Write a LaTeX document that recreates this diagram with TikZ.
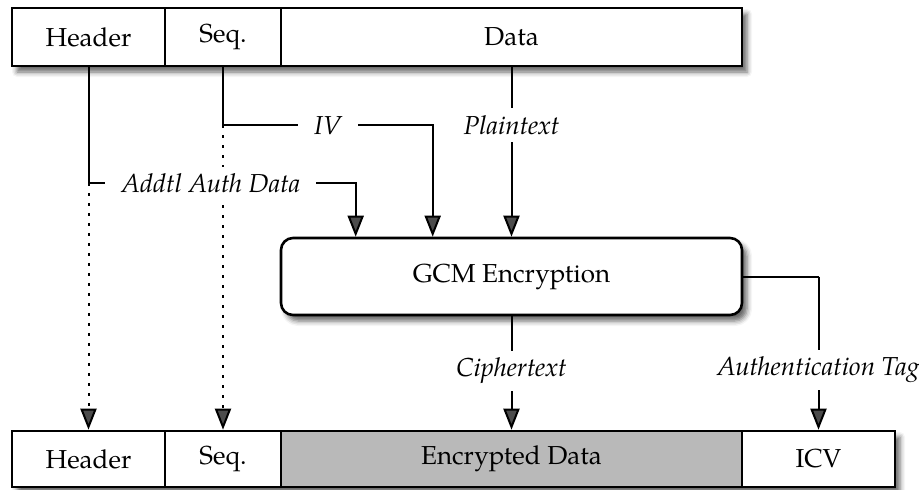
\documentclass[tikz,border=0pt]{standalone}
\usepackage{fontspec}
\setmainfont{TeX Gyre Pagella}
\usetikzlibrary{arrows.meta,shadows.blur}
\definecolor{encgray}{RGB}{185,185,185}
\begin{document}
\begin{tikzpicture}[x=0.5pt,y=-0.5pt,
  txt/.style={font=\fontsize{13}{15}\selectfont},
  field/.style={txt,draw,line width=1.3pt,minimum height=29pt,inner sep=0pt},
  lbl/.style={fill=white,inner xsep=8pt,inner ysep=3.5pt,font=\fontsize{13}{15}\selectfont\itshape},
  conn/.style={line width=1pt},
  arr/.style={conn,-{Triangle[length=10.5pt,width=8pt]}},
  dots/.style={arr,dash pattern=on 1.2pt off 3.8pt},
  shad/.style={blur shadow={shadow xshift=2.5pt,shadow yshift=-3pt,shadow blur radius=2.5pt,shadow opacity=60}}]
\useasboundingbox (0,0) rectangle (919,489);
% top bar
\fill[white,shad] (12,8) rectangle (742,66);
\node[field,minimum width=76.5pt] (th) at (88.5,37) {Header};
\node[field,minimum width=58pt] (ts) at (223,37) {Seq.};
\node[field,minimum width=230.5pt] (td) at (511.5,37) {Data};
% GCM
\node[txt,draw,line width=1.3pt,rounded corners=6pt,minimum width=230.5pt,minimum height=38.5pt,fill=white,shad] (gcm) at (511.5,276.5) {GCM Encryption};
% bottom bar
\fill[white,shad] (12,431) rectangle (895,487);
\node[field,minimum width=76.5pt,minimum height=28pt] (bh) at (88.5,459) {Header};
\node[field,minimum width=58pt,minimum height=28pt] (bs) at (223,459) {Seq.};
\node[field,minimum width=230.5pt,minimum height=28pt,fill=encgray] (be) at (511.5,459) {Encrypted Data};
\node[field,minimum width=76.5pt,minimum height=28pt] (bi) at (818.5,459) {ICV};
% helper coordinates
\coordinate (aadc) at ([yshift=-58pt]th.south);
\coordinate (ivc) at ([yshift=-29pt]ts.south);
\coordinate (aadin) at ([xshift=38pt]gcm.north west);
\coordinate (ivin) at ([xshift=76.5pt]gcm.north west);
\coordinate (tagc) at (gcm.east -| bi.north);
% dotted
\draw[dots] (aadc) -- (bh.north);
\draw[dots] (ivc) -- (bs.north);
% connectors
\draw[conn] (th.south) -- (aadc);
\draw[arr] (aadc) -- node[lbl,pos=0.458]{Addtl Auth Data} (aadin |- aadc) -- (aadin);
\draw[conn] (ts.south) -- (ivc);
\draw[arr] (ivc) -- node[lbl,pos=0.5]{IV} (ivin |- ivc) -- (ivin);
\draw[arr] (td.south) -- node[lbl,pos=0.34]{Plaintext} (gcm.north);
\draw[arr] (gcm.south) -- node[lbl,pos=0.48]{Ciphertext} (be.north);
\draw[conn] (gcm.east) -- (tagc);
\draw[arr] (tagc) -- node[lbl,pos=0.61]{Authentication Tag} (bi.north);
\end{tikzpicture}
\end{document}
